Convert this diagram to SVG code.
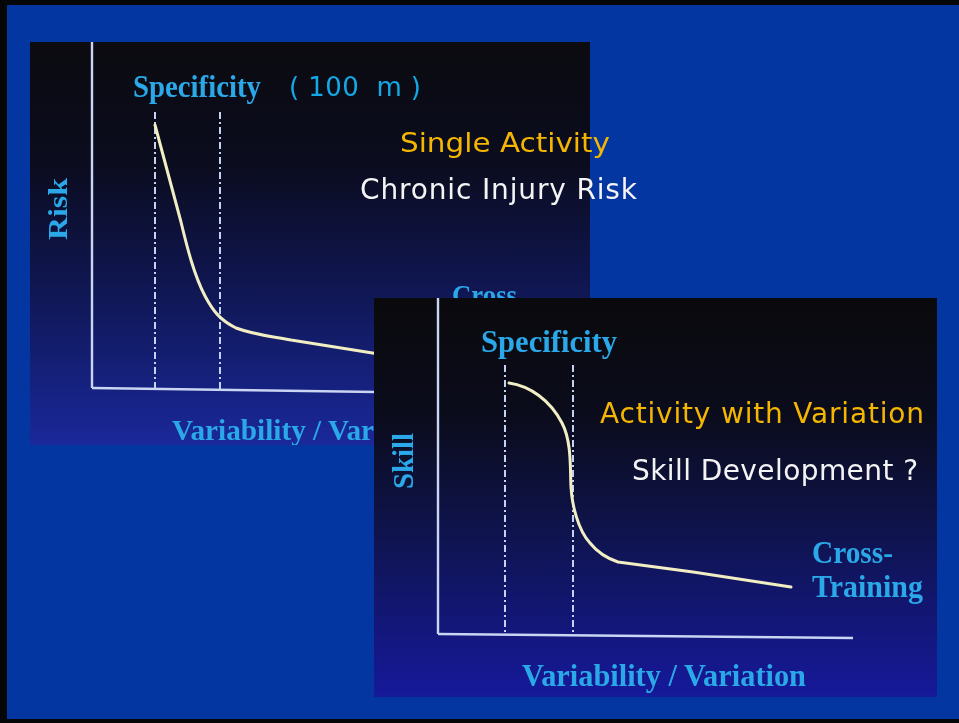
<svg xmlns="http://www.w3.org/2000/svg" width="959" height="723" viewBox="0 0 959 723">
  <defs>
    <linearGradient id="panelFill" x1="0" y1="0" x2="0" y2="1">
      <stop offset="0" stop-color="#0b0b10"/>
      <stop offset="0.3" stop-color="#0b0c1e"/>
      <stop offset="0.6" stop-color="#0f1650"/>
      <stop offset="1" stop-color="#1a289a"/>
    </linearGradient>
    <linearGradient id="panelFill2" x1="0" y1="0" x2="0" y2="1">
      <stop offset="0" stop-color="#0a0a0d"/>
      <stop offset="0.3" stop-color="#0b0c1c"/>
      <stop offset="0.6" stop-color="#0f1450"/>
      <stop offset="1" stop-color="#16199a"/>
    </linearGradient>
    <clipPath id="clipRisk">
      <rect x="30" y="42" width="560" height="403"/>
    </clipPath>
    <filter id="soft" x="-5%" y="-5%" width="110%" height="110%">
      <feGaussianBlur stdDeviation="0.45"/>
    </filter>
  </defs>
  <style>
    .axis { fill: none; stroke: #c9d5f2; stroke-width: 2.4; }
    .guide { fill: none; stroke: #c4d2f4; stroke-width: 2; stroke-dasharray: 7 3 2 3; }
    .curve { fill: none; stroke: #f1eec4; stroke-width: 3; stroke-linecap: round; stroke-linejoin: round; }
    .label { font-family: "Liberation Serif", "Times New Roman", serif; font-weight: bold; fill: #2aa8e8; }
    .note { font-family: "DejaVu Sans", "Liberation Sans", sans-serif; font-weight: normal; }
    .orange { fill: #f4b600; }
    .white { fill: #f4f4f4; }
    .cyan { fill: #14a8e6; }
  </style>

  <!-- slide frame -->
  <rect x="0" y="0" width="959" height="723" fill="#050608"/>
  <rect x="7" y="5" width="952" height="714" fill="#0336a0"/>

  <!-- chart 1: risk vs variability -->
  <g id="chart-risk">
    <rect x="30" y="42" width="560" height="403" fill="url(#panelFill)"/>
    <g clip-path="url(#clipRisk)" filter="url(#soft)">
      <line class="axis" x1="92" y1="42" x2="92" y2="388"/>
      <line class="axis" x1="92" y1="388" x2="590" y2="395"/>
      <line class="guide" x1="155" y1="112" x2="155" y2="388"/>
      <line class="guide" x1="220" y1="112" x2="220" y2="389"/>
      <path class="curve" d="M155,125 L181,222 C187,247 194,275 205,296 C213,311 220,320 236,328 C255,335 270,336 291,340 L385,355"/>
      <text class="label" x="133" y="97" font-size="31" textLength="128" lengthAdjust="spacingAndGlyphs">Specificity</text>
      <text class="label" transform="translate(67,240) rotate(-90)" font-size="28" textLength="62" lengthAdjust="spacingAndGlyphs">Risk</text>
      <text class="label" x="172" y="440" font-size="30" textLength="202" lengthAdjust="spacingAndGlyphs">Variability / Var</text>
      <text class="label" x="452" y="305" font-size="29" textLength="65" lengthAdjust="spacingAndGlyphs">Cross</text>
    </g>
    <text class="note cyan" x="289" y="96" font-size="26" textLength="132" lengthAdjust="spacing" xml:space="preserve">( 100  m )</text>
  </g>

  <!-- chart 2: skill vs variability -->
  <g id="chart-skill">
    <rect x="374" y="298" width="563" height="399" fill="url(#panelFill2)"/>
    <g filter="url(#soft)">
      <line class="axis" x1="438" y1="298" x2="438" y2="634"/>
      <line class="axis" x1="438" y1="634" x2="853" y2="638"/>
      <line class="guide" x1="505" y1="365" x2="505" y2="634"/>
      <line class="guide" x1="573" y1="365" x2="573" y2="635"/>
      <path class="curve" d="M509,383 C530,386 550,400 562,423 C572,442 570,470 571,487 C572,505 578,530 590,543 C598,553 606,558 618,562 L693,572 L791,587"/>
      <text class="label" x="481" y="352" font-size="32" textLength="136" lengthAdjust="spacingAndGlyphs">Specificity</text>
      <text class="label" transform="translate(413,489) rotate(-90)" font-size="30" textLength="56" lengthAdjust="spacingAndGlyphs">Skill</text>
      <text class="label" x="812" y="563" font-size="31" textLength="81" lengthAdjust="spacingAndGlyphs">Cross-</text>
      <text class="label" x="812" y="597" font-size="31" textLength="111" lengthAdjust="spacingAndGlyphs">Training</text>
      <text class="label" x="522" y="686" font-size="31" textLength="284" lengthAdjust="spacingAndGlyphs">Variability / Variation</text>
    </g>
    <text class="note orange" x="600" y="423" font-size="28" textLength="324" lengthAdjust="spacing">Activity with Variation</text>
    <text class="note white" x="632" y="480" font-size="28" textLength="286" lengthAdjust="spacing">Skill Development ?</text>
  </g>

  <!-- captions laid over chart 1 -->
  <g id="captions-risk">
    <text class="note orange" x="400" y="152" font-size="27" textLength="210" lengthAdjust="spacingAndGlyphs">Single Activity</text>
    <text class="note white" x="360" y="199" font-size="28" textLength="277" lengthAdjust="spacing">Chronic Injury Risk</text>
  </g>
</svg>
